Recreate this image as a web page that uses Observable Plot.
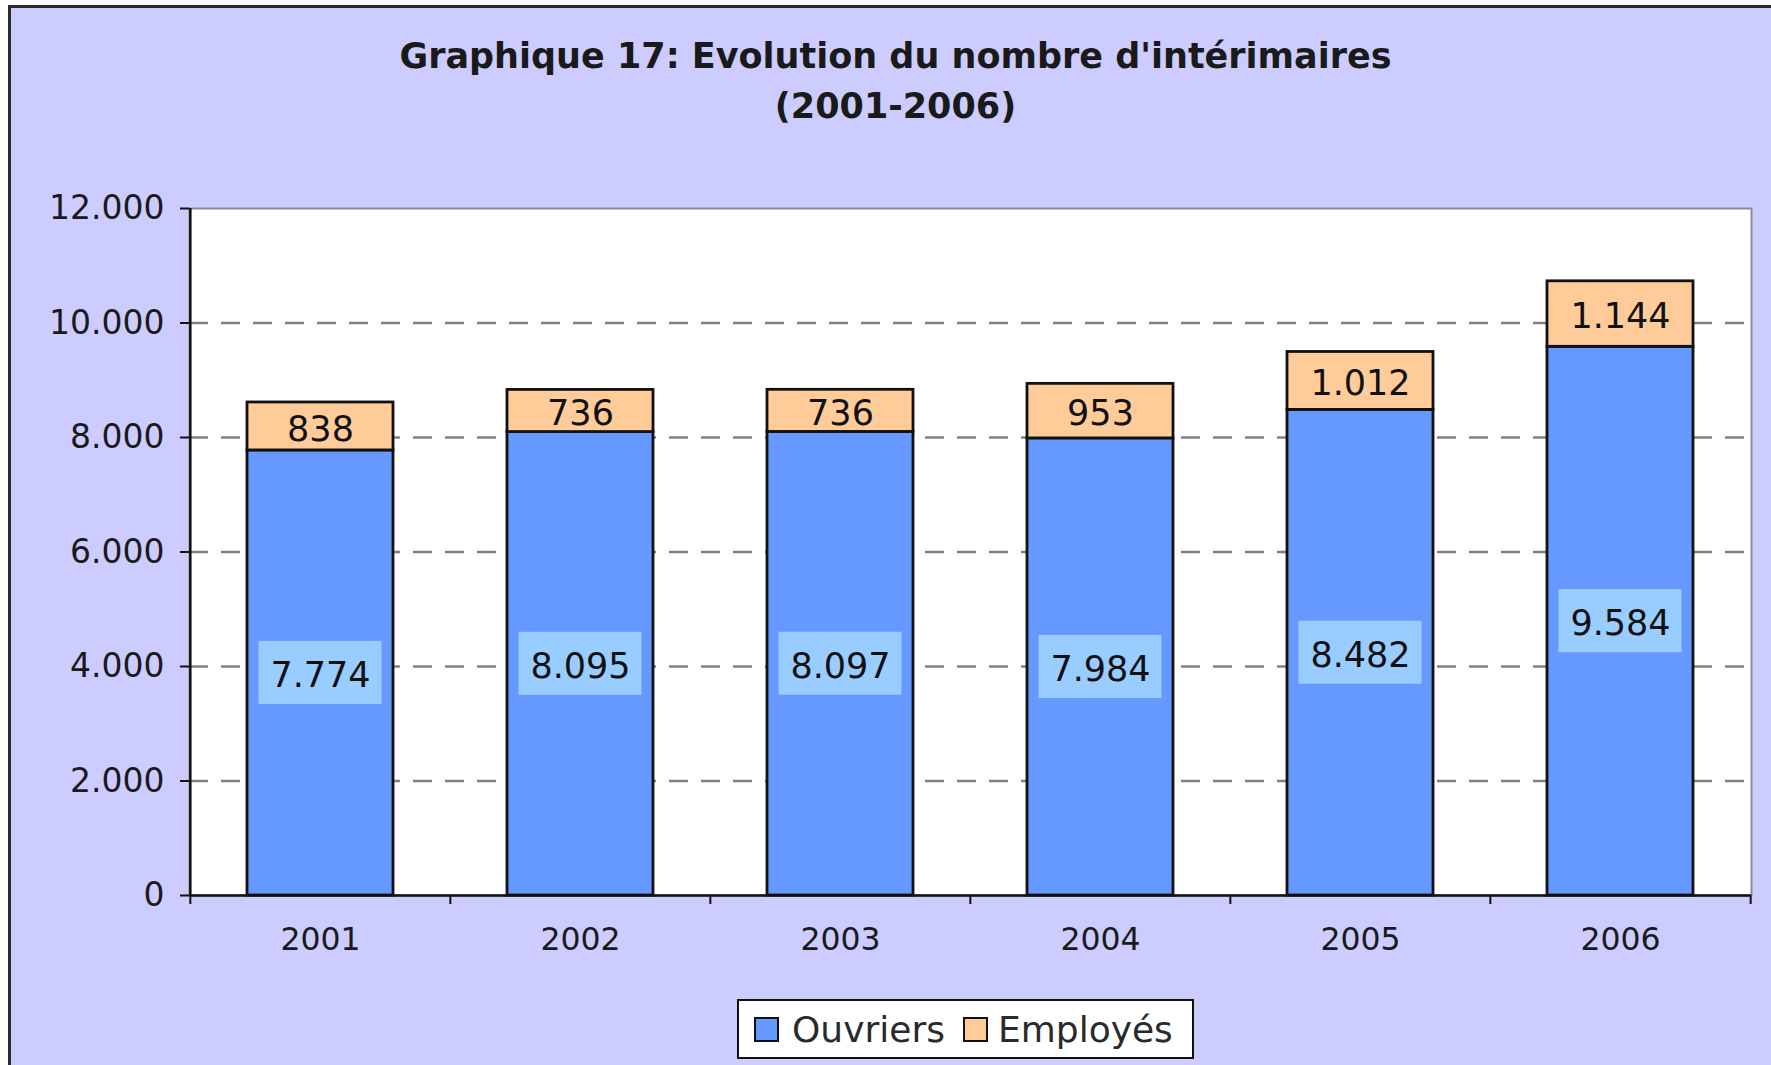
<!DOCTYPE html>
<html>
<head>
<meta charset="utf-8">
<script src="https://cdn.jsdelivr.net/npm/d3@7"></script>
<script src="https://cdn.jsdelivr.net/npm/@observablehq/plot@0.6"></script>
<style>
  html, body { margin: 0; padding: 0; background: #ffffff; width: 1771px; height: 1065px; overflow: hidden; }
  body { position: relative; font-family: "DejaVu Sans", Verdana, sans-serif; }
  #frame { position: absolute; left: 8px; top: 5px; width: 1790px; height: 1090px;
           border-left: 3px solid #2a2a2a; border-top: 3px solid #2a2a2a; background: #CCCCFF; }
  #title { position: absolute; left: 0; top: 31px; width: 1791px; text-align: center;
           font-weight: bold; font-size: 35px; line-height: 50px; color: #1a1a1a; }
  #chart { position: absolute; left: 0; top: 150px; }
  #legend { position: absolute; left: 737px; top: 999px; width: 453px; height: 56px;
            background: #ffffff; border: 2px solid #111; display: flex; align-items: center;
            font-size: 36px; color: #2a2a2a; box-sizing: content-box; }
  .sw { width: 21px; height: 21px; border: 2px solid #111; display: inline-block; }
</style>
</head>
<body>
<div id="frame"></div>
<div id="title">Graphique 17: Evolution du nombre d'intérimaires<br>(2001-2006)</div>
<div id="chart"></div>
<div id="legend"></div>
<script>
const years = ["2001", "2002", "2003", "2004", "2005", "2006"];
const ouvriers = [7774, 8095, 8097, 7984, 8482, 9584];
const employes = [838, 736, 736, 953, 1012, 1144];
const seriesNames = ["Ouvriers", "Employés"];
const yTicks = [0, 2000, 4000, 6000, 8000, 10000, 12000];

const blue = "#6699FF", orange = "#FFCC99", boxBlue = "#99CCFF";
const fmt = d3.formatLocale({decimal: ",", thousands: ".", grouping: [3], currency: ["", ""]}).format(",");

const rows = [];
years.forEach((year, i) => {
  rows.push({year, series: seriesNames[0], value: ouvriers[i], base: 0});
  rows.push({year, series: seriesNames[1], value: employes[i], base: ouvriers[i]});
});
const ouvRows = rows.filter(d => d.series === seriesNames[0]);

const W = 1771, H = 800, mL = 189, mR = 20, mT = 58, mB = 55;
const step = (W - mL - mR) / years.length;

const chart = Plot.plot({
  width: W, height: H,
  marginLeft: mL, marginRight: mR, marginTop: mT, marginBottom: mB,
  style: {background: "transparent", fontFamily: "DejaVu Sans, Verdana, sans-serif", color: "#1a1a1a", overflow: "visible"},
  x: {domain: years, paddingInner: 0.44, paddingOuter: 0.22, axis: null, label: null},
  y: {domain: [0, 12000], axis: null, label: null},
  color: {domain: seriesNames, range: [blue, orange]},
  marks: [
    Plot.frame({fill: "white", stroke: null}),
    Plot.ruleY(yTicks.filter(t => t > 0 && t < 12000), {stroke: "#808080", strokeWidth: 2.5, strokeDasharray: "19,13"}),
    Plot.frame({stroke: "#8c8c8c", strokeWidth: 2}),
    Plot.barY(rows, {x: "year", y: "value", fill: "series", stroke: "#111", strokeWidth: 2.8}),
    Plot.barY(ouvRows, {x: "year", y1: d => d.value / 2, y2: d => d.value / 2, fill: boxBlue,
      insetLeft: 11.5, insetRight: 11.5, insetTop: -31.5, insetBottom: -31.5}),
    Plot.text(rows, {x: "year", y: d => d.base + d.value / 2, text: d => fmt(d.value),
      fontSize: 35, fill: "#111", dy: 3}),
    Plot.ruleY([0], {stroke: "#111", strokeWidth: 2.5}),
    Plot.ruleX([years[0]], {dx: -step / 2, stroke: "#111", strokeWidth: 2.5}),
    Plot.axisY({ticks: yTicks, tickSize: 9, tickPadding: 16, tickFormat: fmt, fontSize: 33,
      stroke: "#111", strokeWidth: 2, fill: "#1a1a1a", label: null}),
    Plot.axisX(years, {tickSize: 9, text: null, dx: -step / 2, stroke: "#111", strokeWidth: 2, label: null}),
    Plot.axisX([years[years.length - 1]], {tickSize: 9, text: null, dx: step / 2, stroke: "#111", strokeWidth: 2, label: null}),
    Plot.axisX({tickSize: 0, tickPadding: 32, fontSize: 31.5, fill: "#1a1a1a", label: null})
  ]
});
document.getElementById("chart").appendChild(chart);

const legend = document.getElementById("legend");
const colors = [blue, orange];
legend.innerHTML =
  `<span class="sw" style="background:${colors[0]};margin-left:15px"></span>` +
  `<span style="margin-left:13px">${seriesNames[0]}</span>` +
  `<span class="sw" style="background:${colors[1]};margin-left:18px"></span>` +
  `<span style="margin-left:10px">${seriesNames[1]}</span>`;
</script>
</body>
</html>
